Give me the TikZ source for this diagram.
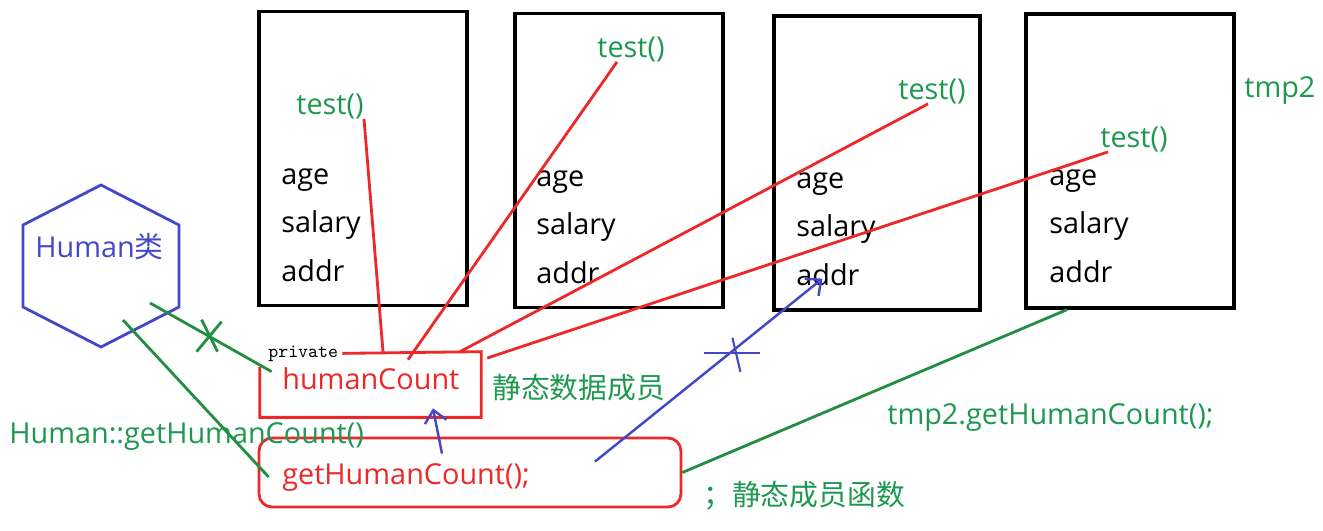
\documentclass[tikz,border=0pt]{standalone}
\usepackage{fontspec}
\setmainfont{Open Sans}
\newfontfamily\cjk{Noto Sans CJK SC}
\usetikzlibrary{arrows.meta,calc}
\definecolor{objred}{RGB}{236,40,40}
\definecolor{txtgreen}{RGB}{30,152,80}
\definecolor{lngreen}{RGB}{34,142,64}
\definecolor{clsblue}{RGB}{66,72,200}

\begin{document}
\begin{tikzpicture}[
  x=0.02cm, y=-0.02cm,
  font=\fontsize{16.4}{20}\selectfont,
  obj/.style={draw=black, line width=1.9pt, minimum width=4.16cm, minimum height=5.88cm, inner sep=0pt},
  fld/.style={anchor=base west, inner sep=0pt, text=black},
  fn/.style={anchor=base west, inner sep=0pt, text=txtgreen},
  note/.style={anchor=west, inner sep=0pt, text=txtgreen},
  redln/.style={draw=objred, line width=1.6pt},
  grnln/.style={draw=lngreen, line width=1.6pt},
  bluln/.style={draw=clsblue, line width=1.4pt, -{Straight Barb[length=2.4mm,width=4.4mm]}}
]
\useasboundingbox (0,0) rectangle (1323,531);
% objects of the class
\node[obj] (b1) at (363,158.5) {};
\node[obj] (b2) at (619,160.5) {};
\node[obj, minimum width=4.12cm] (b3) at (877,163) {};
\node[obj] (b4) at (1130,161) {};
\foreach \n/\x/\y in {1/281/184,2/536/186,3/796/188,4/1049/185} {
  \node[fld] (age\n) at (\x,\y) {age};
  \node[fld] (sal\n) at (\x,\y+48) {salary};
  \node[fld] (addr\n) at (\x,\y+97) {addr};
}
\node[fn] (t1) at (296,114) {test()};
\node[fn] (t2) at (597,57) {test()};
\node[fn] (t3) at (898,99) {test()};
\node[fn] (t4) at (1100,147) {test()};
\node[fn] (tmp) at (1244,97) {tmp2};
% the class itself
\draw[clsblue, line width=1.6pt] (101,185) -- (179,225) -- (179,307) -- (101,347) -- (23,307) -- (23,225) -- cycle;
\node[fn, text=clsblue] (cls) at (35,257) {Human{\cjk 类}};
\coordinate (hxa) at (150,303);
\coordinate (hxb) at (123,320);
% static members
\node[fn, text=black, font=\ttfamily\fontsize{10.8}{12}\selectfont] (priv) at (268,357) {private};
\node[inner sep=0pt, minimum width=4.42cm, minimum height=1.3cm] (hc) at (370.5,384.5) {};
\node[fn, text=objred] (hctxt) at (282,389) {humanCount};
\draw[redln] ([xshift=0.08cm]priv.east) -- (hc.north east) -- (hc.south east) -- (hc.south west) -- ([yshift=0.35cm]hc.west);
\node[draw=objred, line width=1.6pt, rounded corners=0.26cm, minimum width=8.44cm, minimum height=1.38cm] (gb) at (470,472.5) {};
\node[fn, text=objred] (gbtxt) at (282,484) {getHumanCount();};
% notes
\node[fn] (qual) at (9,443) {Human::getHumanCount()};
\node[note] (sdm) at (492,388) {\cjk 静态数据成员};
\node[fn] (call) at (887,424) {tmp2.getHumanCount();};
\node[note] (sfn) at (703,496) {\cjk ；静态成员函数};
% every test() shares humanCount
\draw[redln] (t1.south east) -- ([xshift=0.25cm]hc.north);
\draw[redln] ([xshift=0.4cm]t2.south west) -- ([xshift=0.75cm,yshift=-0.16cm]hc.north);
\draw[redln] ([xshift=0.6cm]t3.south west) -- ([xshift=1.79cm]hc.north);
\draw[redln] ([xshift=0.16cm]t4.south west) -- ([xshift=0.12cm,yshift=0.53cm]hc.east);
% calls
\draw[grnln] (hxa) -- coordinate[pos=0.49] (xg) ([xshift=0.24cm,yshift=-0.4cm]hc.north west);
\draw[grnln] ($(xg)+(-13,15)$) -- ($(xg)+(12,-15)$);
\draw[grnln] ($(xg)+(-8,-17)$) -- ($(xg)+(8,15)$);
\draw[grnln] (hxb) -- ([xshift=0.22cm,yshift=-0.09cm]gb.west);
\draw[grnln] (gb.east) -- ([xshift=-1.26cm]b4.south);
\draw[bluln] ([xshift=-0.56cm,yshift=-0.34cm]gb.north) -- ([xshift=1.25cm,yshift=0.18cm]hc.south);
\draw[bluln] ([xshift=2.5cm,yshift=-0.5cm]gb.north) -- coordinate[pos=0.6] (xb) ([xshift=-0.11cm,yshift=0.14cm]addr3.south);
\draw[clsblue, line width=1.2pt] ($(xb)+(-27,1)$) -- ($(xb)+(29,1)$);
\draw[clsblue, line width=1.2pt] ($(xb)+(1,-14)$) -- ($(xb)+(9,20)$);
\end{tikzpicture}
\end{document}
